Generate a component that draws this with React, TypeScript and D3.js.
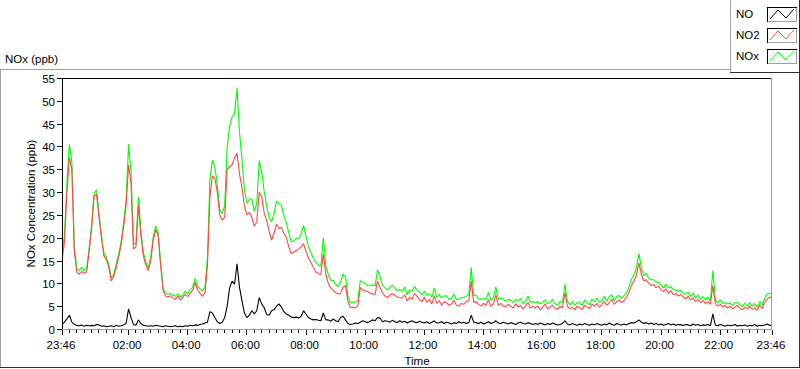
import { useEffect, useRef } from "react";
import * as d3 from "d3";

// one sample every 5 minutes, from 23:46 to 23:46 the next day (one row = one hour)
const STEP_MIN = 5;
const SERIES = ["NO", "NO2", "NOx"];
const COLORS = ["#000000", "#ff4747", "#00ff00"];
const Y_TICKS = [0, 5, 10, 15, 20, 25, 30, 35, 40, 45, 50, 55];
const LABEL_HOURS = [2, 4, 6, 8, 10, 12, 14, 16, 18, 20, 22];

const no = [
  1, 1.5, 2.2, 3, 1.5, 1, 0.8, 0.7, 0.9, 0.6, 0.8, 0.7,
  0.8, 0.7, 1, 0.9, 0.6, 0.7, 0.5, 0.6, 0.7, 0.5, 0.8, 0.6,
  0.7, 0.9, 1.2, 4.4, 2.5, 1, 0.8, 2, 1.2, 0.8, 0.7, 0.6,
  0.7, 0.6, 0.8, 0.7, 0.6, 0.5, 0.7, 0.6, 0.5, 0.6, 0.7, 0.5,
  0.6, 0.5, 0.7, 0.6, 0.8, 0.7, 0.9, 0.8, 1, 1.1, 1.3, 1.5,
  3.8, 3.5, 2.5, 1.6, 1.2, 1.5, 2.5, 5, 9, 10.5, 9.8, 14.3,
  9.1, 6.2, 3.5, 2.5, 3, 4, 3.3, 4, 6.9, 5.5, 4.7, 3.2,
  3, 4, 4.2, 5, 5.5, 4.8, 3.8, 3.3, 3, 2.6, 2.5, 2.6,
  2.4, 2.8, 4, 3.2, 2.5, 2.2, 2, 2.1, 1.9, 1.8, 3.5, 2,
  2, 1.7, 2.2, 1.8, 1.6, 2.5, 2.8, 2, 1.2, 1, 1.1, 1.3,
  1.2, 1.5, 1.8, 1.6, 1.4, 1.7, 2, 1.8, 2.5, 2.4, 1.6, 1.8,
  1.7, 1.5, 1.9, 1.6, 1.4, 1.8, 1.5, 1.7, 1.3, 1.6, 1.8, 1.5,
  1.4, 1.7, 1.5, 1.3, 1.6, 1.2, 1.5, 1.8, 1.3, 1.4, 1.6, 1.2,
  1.5, 1.3, 1.1, 1.4, 1.2, 1.6, 1.3, 1.5, 1.2, 1.4, 3, 1.5,
  1.4, 1.2, 1.5, 1.1, 1.3, 1.6, 1.2, 1.4, 1.8, 1.3, 1.2, 1.5,
  1.3, 1.1, 1.4, 1.2, 1, 1.3, 1.5, 1.2, 1.1, 1.4, 1.2, 1,
  1.2, 1, 1.3, 1.1, 0.9, 1.2, 1, 1.3, 1.1, 0.9, 1, 1.2,
  1.8, 1.1, 0.9, 1.2, 1, 0.8, 1.1, 0.9, 1.2, 1, 0.8, 1.1,
  0.9, 1.2, 1, 0.8, 1.1, 0.9, 1.3, 1, 0.8, 1.2, 1, 0.9,
  1.1, 0.9, 1.2, 1.4, 1.3, 1.6, 2, 1.5, 1.2, 1.4, 1.1, 1.3,
  1, 1.2, 0.9, 1.1, 0.8, 1, 1.2, 0.9, 1.1, 0.8, 1, 0.9,
  0.8, 1, 0.9, 0.7, 1.1, 0.8, 1, 0.7, 0.9, 0.8, 1, 0.7,
  3.3, 0.9, 0.7, 1, 0.8, 0.6, 0.9, 0.7, 0.8, 1, 0.6, 0.8,
  0.7, 0.9, 0.6, 0.8, 0.7, 1, 0.6, 0.8, 0.7, 0.9, 1.1, 0.8,
  0.9,
];

const no2 = [
  15, 19, 30, 37.5, 35, 17, 12.5, 12, 12.6, 12.2, 12.5, 17,
  22, 29, 29.5, 24.5, 20, 16, 15.2, 13.5, 10.5, 11.5, 13.5, 15.8,
  18.5, 22.5, 27, 36, 32, 17.5, 18, 27, 20.5, 16, 14, 12.8,
  15, 19.5, 21.8, 20.5, 14, 8.5, 7.2, 7, 7.3, 6.8, 6.5, 7.2,
  6.4, 6.9, 7.6, 7.1, 7.8, 8.5, 10.2, 8.6, 7.8, 7.2, 7.9, 14,
  29, 33.5, 33, 30, 25, 23.8, 24.5, 35, 35.5, 36, 37.5, 38.5,
  34, 31, 27, 25, 25.5, 24.5, 22.5, 23.5, 30, 29, 25.5, 23.8,
  21.5, 19.5, 21, 23, 22, 22.3, 21, 20, 18, 16.5, 16.8, 17.2,
  17.5, 18, 18.7, 17, 15.5, 14.5, 13.5, 12.5, 12.1, 12, 16.5, 12,
  10, 9, 8.4, 8, 7.7, 7.8, 9.2, 9.5, 6, 4.7, 4.8, 4.6,
  5, 9.1, 8.5, 8.4, 8.2, 7.9, 7.7, 7.6, 10.5, 9.1, 8, 7.2,
  6.9, 7.5, 7.7, 7.4, 7, 6.9, 6.8, 7.5, 6.2, 7, 6.5, 7.8,
  7.2, 6.4, 6, 7, 5.8, 6.5, 5.5, 7.2, 5.6, 6.2, 5.2, 6,
  5.8, 5.2, 5.5, 6.3, 5.2, 5, 5.6, 5.4, 6, 6.2, 10.5, 5.8,
  6, 5.4, 5, 5.6, 5.2, 6.4, 5, 5.5, 7.5, 5.2, 5.6, 5,
  4.8, 5.4, 5, 4.6, 5.5, 4.8, 5.2, 4.4, 5, 5.8, 4.6, 5,
  4.6, 5, 4.2, 4.8, 5.5, 4.4, 4.8, 5.2, 4.5, 4.3, 5, 4.6,
  8, 5, 4.4, 4.8, 4.2, 5, 4.6, 4.3, 5.2, 4.8, 4.5, 5.5,
  5, 5.6, 4.8, 5.4, 6, 5.2, 5.8, 6.5, 5.4, 6, 6.3, 5.8,
  6.2, 7, 8, 9.5, 10.5, 11.8, 14.5, 12, 10.5, 10.8, 10, 9.5,
  9.8, 9, 9.4, 8.6, 8.2, 8.8, 7.8, 8.4, 7.5, 7.8, 7.2, 7.6,
  7, 6.6, 7.2, 6.4, 6.8, 6, 6.5, 5.8, 6.2, 5.6, 6, 5.4,
  9.5, 5.6, 5, 5.4, 4.8, 5.2, 4.6, 5, 4.4, 4.8, 5.2, 4.5,
  4.2, 4.8, 4.4, 5, 4.3, 4.6, 4.1, 5.2, 4.5, 5.8, 6.5, 7,
  6.8,
];

const nox = [
  16, 20.5, 32.2, 40.5, 36.5, 18, 13.3, 12.7, 13.5, 12.8, 13.3, 17.7,
  22.8, 29.7, 30.5, 25.4, 20.6, 16.7, 15.7, 14.1, 11.2, 12, 14.3, 16.4,
  19.2, 23.4, 28.2, 40.4, 34.5, 18.5, 18.8, 29, 21.7, 16.8, 14.7, 13.4,
  15.7, 20.1, 22.6, 21.2, 14.6, 9, 7.9, 7.6, 7.8, 7.4, 7.2, 7.7,
  7, 7.4, 8.3, 7.7, 8.6, 9.2, 11.1, 9.4, 8.8, 8.3, 9.2, 15.5,
  32.8, 37, 35.5, 31.6, 26.2, 25.3, 27, 40, 44.5, 46.5, 47.3, 52.8,
  43.1, 37.2, 30.5, 27.5, 28.5, 28.5, 25.8, 27.5, 36.9, 34.5, 30.2, 27,
  24.5, 23.5, 25.2, 28, 27.5, 27.1, 24.8, 23.3, 21, 19.1, 19.3, 19.8,
  19.9, 20.8, 22.7, 20.2, 18, 16.7, 15.5, 14.6, 14, 13.8, 20, 14,
  12, 10.7, 10.6, 9.8, 9.3, 10.3, 12, 11.5, 7.2, 5.7, 5.9, 5.9,
  6.2, 10.6, 10.3, 10, 9.6, 9.6, 9.7, 9.4, 13, 11.5, 9.6, 9,
  8.6, 9, 9.6, 9, 8.4, 8.7, 8.3, 9.2, 7.5, 8.6, 8.3, 9.3,
  8.6, 8.1, 7.5, 8.3, 7.4, 7.7, 7, 9, 6.9, 7.6, 6.8, 7.2,
  7.3, 6.5, 6.6, 7.7, 6.4, 6.6, 6.9, 6.9, 7.2, 7.6, 13.5, 7.3,
  7.4, 6.6, 6.5, 6.7, 6.5, 8, 6.2, 6.9, 9.3, 6.5, 6.8, 6.5,
  6.1, 6.5, 6.4, 5.8, 6.5, 6.1, 6.7, 5.6, 6.1, 7.2, 5.8, 6,
  5.8, 6, 5.5, 5.9, 6.4, 5.6, 5.8, 6.5, 5.6, 5.2, 6, 5.8,
  9.8, 6.1, 5.3, 6, 5.2, 5.8, 5.7, 5.2, 6.4, 5.8, 5.3, 6.6,
  5.9, 6.8, 5.8, 6.2, 7.1, 6.1, 7.1, 7.5, 6.2, 7.2, 7.3, 6.7,
  7.3, 7.9, 9.2, 10.9, 11.8, 13.4, 16.5, 13.5, 11.7, 12.2, 11.1, 10.8,
  10.8, 10.2, 10.3, 9.7, 9, 9.8, 9, 9.3, 8.6, 8.6, 8.2, 8.5,
  7.8, 7.6, 8.1, 7.1, 7.9, 6.8, 7.5, 6.5, 7.1, 6.4, 7, 6.1,
  12.8, 6.5, 5.7, 6.4, 5.6, 5.8, 5.5, 5.7, 5.2, 5.8, 5.8, 5.3,
  4.9, 5.7, 5, 5.8, 5, 5.6, 4.7, 6, 5.2, 6.7, 7.6, 7.8,
  7.7,
];

const App = () => {
  const ref = useRef<SVGSVGElement>(null);

  useEffect(() => {
    document.body.style.margin = "0";
    const width = 800;
    const height = 369;
    const font = "'Liberation Sans', Arial, sans-serif";
    const fs = 11.5;

    const svg = d3.select(ref.current).attr("width", width).attr("height", height);
    svg.selectAll("*").remove();

    svg.append("rect").attr("width", width).attr("height", height).attr("fill", "#fff");

    const t0 = new Date(2021, 0, 1, 23, 46);
    const t1 = d3.timeDay.offset(t0, 1);
    const x = d3.scaleTime().domain([t0, t1]).range([62, 772]);
    const y = d3.scaleLinear().domain([0, 55]).range([329, 78]);
    const timeAt = (i: number) => d3.timeMinute.offset(t0, i * STEP_MIN);

    const hline = (x1: number, x2: number, yy: number, c: string) =>
      svg.append("line").attr("x1", x1).attr("x2", x2).attr("y1", yy).attr("y2", yy)
        .attr("stroke", c).attr("shape-rendering", "crispEdges");
    const vline = (xx: number, y1: number, y2: number, c: string) =>
      svg.append("line").attr("x1", xx).attr("x2", xx).attr("y1", y1).attr("y2", y2)
        .attr("stroke", c).attr("shape-rendering", "crispEdges");

    // outer frame
    hline(0, 730, 69.5, "#a0a0a0");
    vline(0.5, 69.5, 368, "#a0a0a0");
    hline(0, 800, 367.5, "#303030");
    vline(799.5, 0, 368, "#303030");
    // legend frame
    vline(730.5, 0, 72, "#a0a0a0");
    hline(730, 800, 72.5, "#303030");

    // title
    svg.append("text").attr("x", 5).attr("y", 63).attr("font-family", font)
      .attr("font-size", fs).attr("fill", "#000").text("NOx (ppb)");

    // plot data
    svg.append("clipPath").attr("id", "plotclip").append("rect")
      .attr("x", 63).attr("y", 79).attr("width", 708).attr("height", 251);

    const series = [no, no2, nox];
    const line = d3.line<number>()
      .x((_, i) => x(timeAt(i)))
      .y((d) => y(d));
    const g = svg.append("g").attr("clip-path", "url(#plotclip)");
    [2, 1, 0].forEach((k) => {
      g.append("path")
        .attr("d", line(series[k]))
        .attr("fill", "none")
        .attr("stroke", COLORS[k])
        .attr("stroke-width", 1.1)
        .attr("stroke-linejoin", "bevel");
    });

    // plot frame
    hline(62, 772, 78.5, "#000");
    vline(62.5, 78, 330, "#000");
    vline(771.5, 78, 330, "#a0a0a0");
    hline(62, 772, 329.5, "#a0a0a0");

    // y axis
    Y_TICKS.forEach((v) => {
      const yy = Math.round(y(v)) + 0.5;
      hline(57, 62, yy, "#000");
      svg.append("text").attr("x", 55).attr("y", yy + 4).attr("text-anchor", "end")
        .attr("font-family", font).attr("font-size", fs).attr("fill", "#000").text(v);
    });
    svg.append("text")
      .attr("transform", `translate(35, ${(78 + 329) / 2}) rotate(-90)`)
      .attr("text-anchor", "middle").attr("font-family", font).attr("font-size", fs)
      .attr("fill", "#000").text("NOx Concentration (ppb)");

    // x axis
    const fmt = d3.timeFormat("%H:%M");
    d3.timeMinute.every(15)!.range(t0, t1).forEach((t) => {
      const xx = Math.round(x(t)) + 0.5;
      vline(xx, 330, 333, "#000");
    });
    const majors = [t0, ...LABEL_HOURS.map((h) => new Date(2021, 0, 2, h, 0)), t1];
    majors.forEach((t) => {
      const xx = Math.round(x(t)) + 0.5;
      vline(xx, 330, 335, "#000");
      svg.append("text").attr("x", x(t) - 1).attr("y", 349).attr("text-anchor", "middle")
        .attr("font-family", font).attr("font-size", fs).attr("fill", "#000").text(fmt(t));
    });
    svg.append("text").attr("x", 417).attr("y", 365).attr("text-anchor", "middle")
      .attr("font-family", font).attr("font-size", fs).attr("fill", "#000").text("Time");

    // legend
    const swatch = d3.line<number[]>().x((d) => d[0]).y((d) => d[1]);
    const zig = [[3, 12], [11, 3], [19, 11], [27, 2]];
    SERIES.forEach((name, i) => {
      const top = 7 + i * 21;
      svg.append("text").attr("x", 736).attr("y", top + 11).attr("font-family", font)
        .attr("font-size", fs).attr("fill", "#000").text(name);
      const sg = svg.append("g").attr("transform", `translate(767, ${top})`);
      sg.append("rect").attr("x", 0.5).attr("y", 0.5).attr("width", 29).attr("height", 14)
        .attr("fill", "#fff").attr("stroke", "#a0a0a0").attr("shape-rendering", "crispEdges");
      sg.append("path").attr("d", "M0.5,14.5 V0.5 H29.5").attr("fill", "none")
        .attr("stroke", "#000").attr("shape-rendering", "crispEdges");
      sg.append("path").attr("d", swatch(zig)).attr("fill", "none")
        .attr("stroke", COLORS[i]).attr("stroke-width", 1);
    });
  }, []);

  return <svg ref={ref} style={{ display: "block" }}></svg>;
};

export default App;
